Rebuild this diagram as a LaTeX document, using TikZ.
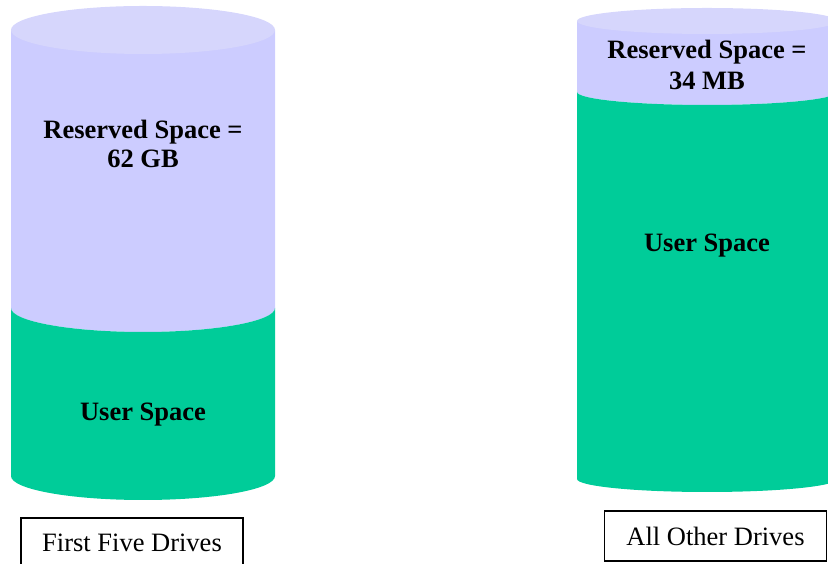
\documentclass[tikz,border=0pt]{standalone}
\usepackage{fontspec}
\setmainfont{Liberation Serif}
\usepackage{tikz}
\usetikzlibrary{positioning}

\definecolor{reservedfill}{HTML}{CCCCFF}
\definecolor{reservedtop}{HTML}{D6D6FC}
\definecolor{userfill}{HTML}{00CC99}

\begin{document}
\begin{tikzpicture}[
        x=1pt, y=1pt,
        space_text/.style={align=center, font=\bfseries\fontsize{26.5}{29}\selectfont},
        drive_label/.style={draw, line width=1.1pt, minimum height=50pt, font=\fontsize{26.5}{30}\selectfont},
        reserved/.style={fill=reservedfill},
        lid/.style={fill=reservedtop},
        user/.style={fill=userfill}
    ]

    \clip (0,0) rectangle (828,564);

    % --- First Five Drives (left cylinder) ---
    \fill[reserved] (11,534) -- (11,256) arc[start angle=180, end angle=360, x radius=132pt, y radius=24pt] -- (275,534) -- cycle;
    \fill[user] (11,256) arc[start angle=180, end angle=360, x radius=132pt, y radius=24pt] -- (275,88) arc[start angle=0, end angle=-180, x radius=132pt, y radius=24pt] -- cycle;
    \fill[lid] (143,534) ellipse[x radius=132pt, y radius=24pt];

    \node[space_text] (res_a) at (143,420) {Reserved Space =\\62 GB};
    \node[space_text] (user_a) at (143,149) {User Space};
    \node[drive_label, minimum width=222pt] (lbl_a) at (132,21) {First Five Drives};

    % --- All Other Drives (right cylinder) ---
    \fill[reserved] (577,543) -- (577,472) arc[start angle=180, end angle=360, x radius=130pt, y radius=13pt] -- (837,543) -- cycle;
    \fill[user] (577,472) arc[start angle=180, end angle=360, x radius=130pt, y radius=13pt] -- (837,85) arc[start angle=0, end angle=-180, x radius=130pt, y radius=13pt] -- cycle;
    \fill[lid] (707,543) ellipse[x radius=130pt, y radius=13pt];

    \node[space_text, font=\bfseries\fontsize{26.5}{30.5}\selectfont] (res_b) at (707,499) {Reserved Space =\\34 MB};
    \node[space_text] (user_b) at (707,318) {User Space};
    \node[drive_label, minimum width=222pt] (lbl_b) at (715.5,28) {All Other Drives};

\end{tikzpicture}
\end{document}
